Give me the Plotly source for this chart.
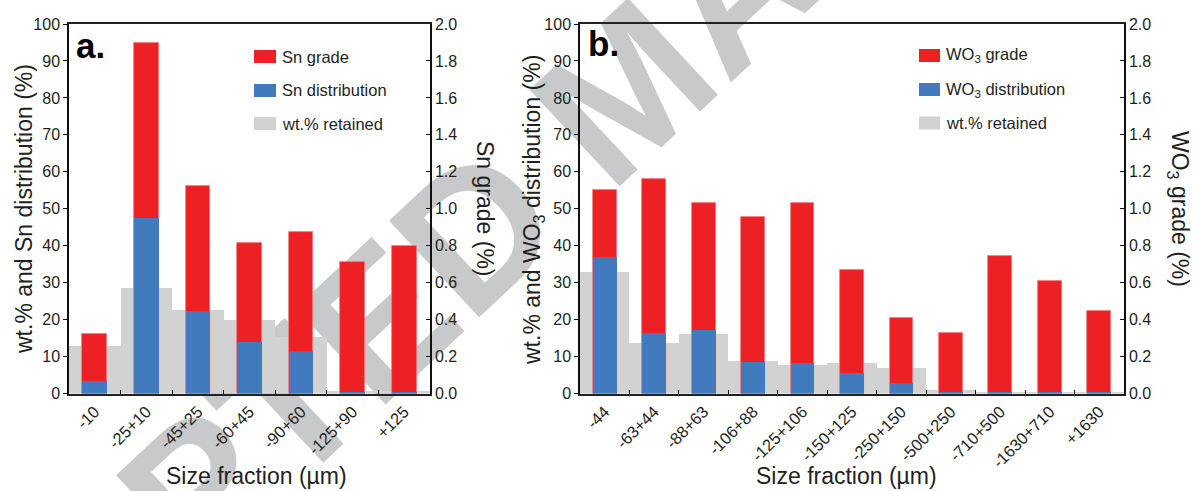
import plotly.graph_objects as go

# ---- data: panel a (Sn) ----
sn_fractions = ["-10", "-25+10", "-45+25", "-60+45", "-90+60", "-125+90", "+125"]
sn_wt_retained = [13.0, 28.7, 22.7, 19.9, 15.4, 0.6, 0.6]          # wt.%
sn_distribution = [3.3, 47.5, 22.3, 14.0, 11.6, 0.3, 0.5]          # %
sn_grade = [0.32, 1.895, 1.126, 0.815, 0.872, 0.713, 0.80]          # %

# ---- data: panel b (WO3) ----
w_fractions = ["-44", "-63+44", "-88+63", "-106+88", "-125+106", "-150+125",
               "-250+150", "-500+250", "-710+500", "-1630+710", "+1630"]
w_wt_retained = [32.9, 13.8, 16.2, 8.8, 7.8, 8.2, 6.95, 0.9, 0.3, 0.3, 0.3]
w_distribution = [37.0, 16.3, 17.2, 8.6, 8.3, 5.5, 2.8, 0.3, 0.3, 0.3, 0.3]
w_grade = [1.10, 1.16, 1.03, 0.958, 1.03, 0.67, 0.408, 0.327, 0.743, 0.61, 0.446]

y_left_ticks = list(range(0, 101, 10))
y_right_ticks = [0.0, 0.2, 0.4, 0.6, 0.8, 1.0, 1.2, 1.4, 1.6, 1.8, 2.0]

RED = "#ED2024"
BLUE = "#417BBE"
GREY = "#D2D2D2"
WATERMARK = "#C8C9CA"
INK = "#231F20"
FONT = "Liberation Sans, Arial, Helvetica, sans-serif"

W, H = 1193, 491


def px(x):
    return x / W


def py(y):
    return 1 - y / H


fig = go.Figure()

# panel a traces: gray on y, red on y2 (right scale), blue on y3 (hidden, same scale as y)
fig.add_trace(go.Bar(x=sn_fractions, y=sn_wt_retained, width=1.0, marker=dict(color=GREY, line=dict(width=0)),
                     xaxis="x", yaxis="y", name="wt.% retained", showlegend=False))
fig.add_trace(go.Bar(x=sn_fractions, y=sn_grade, width=0.48,
                     marker=dict(color=RED, line=dict(width=0.8, color="#F07C82")),
                     xaxis="x", yaxis="y2", name="Sn grade", showlegend=False))
fig.add_trace(go.Bar(x=sn_fractions, y=sn_distribution, width=0.48, marker=dict(color=BLUE, line=dict(width=0)),
                     xaxis="x", yaxis="y3", name="Sn distribution", showlegend=False))

# panel b traces
fig.add_trace(go.Bar(x=w_fractions, y=w_wt_retained, width=1.0, marker=dict(color=GREY, line=dict(width=0)),
                     xaxis="x2", yaxis="y4", name="wt.% retained", showlegend=False))
fig.add_trace(go.Bar(x=w_fractions, y=w_grade, width=0.48,
                     marker=dict(color=RED, line=dict(width=0.8, color="#F07C82")),
                     xaxis="x2", yaxis="y5", name="WO3 grade", showlegend=False))
fig.add_trace(go.Bar(x=w_fractions, y=w_distribution, width=0.48, marker=dict(color=BLUE, line=dict(width=0)),
                     xaxis="x2", yaxis="y6", name="WO3 distribution", showlegend=False))

ydom = [py(393.6), py(24)]
dom_a = [px(69), px(430)]
dom_b = [px(580), px(1124)]

tickfont = dict(family=FONT, size=16, color=INK)
xtickfont = dict(family=FONT, size=16.5, color=INK)

xcommon = dict(type="category", tickson="boundaries", ticks="inside", ticklen=4, tickwidth=1.2,
               tickcolor="#111", tickangle=-45, showline=True, linecolor="#222", linewidth=2,
               mirror=True, showgrid=False, zeroline=False, automargin=False, tickfont=xtickfont)
yleft = dict(range=[0, 100], tickvals=y_left_ticks, ticks="outside", ticklen=4, tickwidth=1.2,
             tickcolor="#111", showline=True, linecolor="#111", linewidth=1.5, showgrid=False,
             zeroline=False, automargin=False, tickfont=tickfont, domain=ydom)
yright = dict(range=[0, 2.0], tickvals=y_right_ticks, tickformat=".1f", ticks="inside", ticklen=4,
              tickwidth=1.2, tickcolor="#111", showline=True, linecolor="#111", linewidth=1.5,
              showgrid=False, zeroline=False, automargin=False, tickfont=tickfont, side="right")
yhidden = dict(range=[0, 100], visible=False, showgrid=False, zeroline=False)

fig.update_layout(
    xaxis=dict(xcommon, domain=dom_a, anchor="y", range=[-0.5, len(sn_fractions) - 0.5],
               categoryorder="array", categoryarray=sn_fractions),
    yaxis=dict(yleft, anchor="x"),
    yaxis2=dict(yright, overlaying="y", anchor="x"),
    yaxis3=dict(yhidden, overlaying="y", anchor="x"),
    xaxis2=dict(xcommon, domain=dom_b, anchor="y4", range=[-0.5, len(w_fractions) - 0.5],
                categoryorder="array", categoryarray=w_fractions),
    yaxis4=dict(yleft, anchor="x2"),
    yaxis5=dict(yright, overlaying="y4", anchor="x2"),
    yaxis6=dict(yhidden, overlaying="y4", anchor="x2"),
    barmode="overlay",
    bargap=0,
    template="none",
    width=W, height=H,
    margin=dict(l=0, r=0, t=0, b=0, autoexpand=False),
    paper_bgcolor="white",
    plot_bgcolor="rgba(0,0,0,0)",
    showlegend=False,
    font=dict(family=FONT, color=INK),
)

shapes = []
annotations = []

# watermark, drawn beneath the bars
shapes.append(dict(type="rect", xref="paper", yref="paper", layer="below",
                   x0=px(610), x1=px(620), y0=py(80), y1=py(70),
                   line=dict(width=0), fillcolor="rgba(0,0,0,0)",
                   label=dict(text="<b>ACCEPTED MANUSCRIPT</b>", textangle=-43, textposition="middle center",
                              font=dict(family=FONT, size=192, color=WATERMARK))))


def legend_block(x_sw, x_txt, ys, labels, colors, sw_w):
    for yc, lab, col in zip(ys, labels, colors):
        shapes.append(dict(type="rect", xref="paper", yref="paper", layer="above",
                           x0=px(x_sw), x1=px(x_sw + sw_w), y0=py(yc + 6.5), y1=py(yc - 6.5),
                           line=dict(width=0), fillcolor=col))
        annotations.append(dict(x=px(x_txt), y=py(yc), xref="paper", yref="paper", text=lab,
                                showarrow=False, xanchor="left", yanchor="middle",
                                font=dict(family=FONT, size=16.5, color=INK)))


legend_block(254, 280, [56.5, 90.5, 123.5], ["Sn grade", "Sn distribution", "wt.% retained"],
             [RED, BLUE, GREY], 22)
legend_block(919, 944, [55.5, 89.5, 123], ["WO<sub>3</sub> grade", "WO<sub>3</sub> distribution", "wt.% retained"],
             [RED, BLUE, GREY], 21)

# panel letters
annotations.append(dict(x=px(74), y=py(45), xref="paper", yref="paper", text="<b>a.</b>", showarrow=False,
                        xanchor="left", yanchor="middle", font=dict(family=FONT, size=35, color="black")))
annotations.append(dict(x=px(586), y=py(44), xref="paper", yref="paper", text="<b>b.</b>", showarrow=False,
                        xanchor="left", yanchor="middle", font=dict(family=FONT, size=35, color="black")))

# axis titles
title_font = dict(family=FONT, size=23, color=INK)
annotations += [
    dict(x=px(24), y=py(209), text="wt.% and Sn distribution (%)", textangle=-90),
    dict(x=px(485), y=py(209), text="Sn grade (%)", textangle=90),
    dict(x=px(256), y=py(476), text="Size fraction (µm)", textangle=0),
    dict(x=px(533), y=py(210), text="wt.% and WO<sub>3</sub> distribution (%)", textangle=-90),
    dict(x=px(1179), y=py(209), text="WO<sub>3</sub> grade (%)", textangle=90),
    dict(x=px(846), y=py(476), text="Size fraction (µm)", textangle=0),
]
for a in annotations[-6:]:
    a.update(xref="paper", yref="paper", showarrow=False, xanchor="center", yanchor="middle", font=title_font)

fig.update_layout(shapes=shapes, annotations=annotations)

fig.write_html("out.html")
